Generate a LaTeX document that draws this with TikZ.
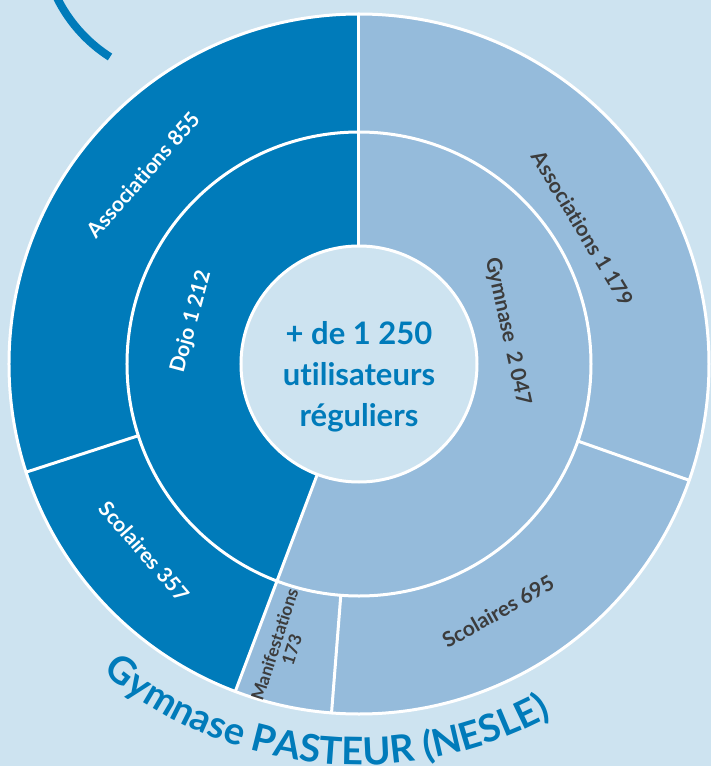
\documentclass[tikz,border=0pt]{standalone}
\usepackage{fontspec}
\setmainfont{Lato}[Ligatures=NoCommon]
\usetikzlibrary{decorations.text}

\definecolor{fond}{RGB}{205,227,240}
\definecolor{bleu}{RGB}{0,123,186}
\definecolor{bleuclair}{RGB}{149,187,219}
\definecolor{gris}{RGB}{60,60,60}

\begin{document}
\begin{tikzpicture}[line cap=round,line join=round,x=1pt,y=1pt,
    blanc/.style={draw=white,line width=3pt},
    etiq/.style={font=\bfseries\fontsize{21}{24}\selectfont,text=white,inner sep=0pt},
    etiqg/.style={font=\bfseries\fontsize{21}{24}\selectfont,text=gris,inner sep=0pt}]
    \useasboundingbox (-359,-402) rectangle (352,364);
    \clip (-359,-402) rectangle (352,364);
    \fill[fond] (-359,-402) rectangle (352,364);
    % arc du haut
    \draw[bleu,line width=8pt,line cap=butt] (-170,431) ++(200:147) arc[start angle=200,end angle=237.5,radius=147];
    % anneaux
    \fill[bleuclair] (0,0) circle[radius=350];
    \fill[bleu] (0,0) -- (90:350) arc[start angle=90,end angle=249.3,radius=350] -- cycle;
    \draw[blanc] (0,0) circle[radius=350];
    \draw[blanc] (0,0) circle[radius=232];
    \draw[blanc] (90:118) -- (90:350);
    \draw[blanc] (249.3:118) -- (249.3:350);
    \draw[blanc] (198:232) -- (198:350);
    \draw[blanc] (265.5:232) -- (265.5:350);
    \draw[blanc] (340.6:232) -- (340.6:350);
    \filldraw[fill=fond,blanc] (0,0) circle[radius=118];
    % textes
    \node[align=center,font=\bfseries\fontsize{31}{41}\selectfont,text=bleu] (total) at (0,-13) {+ de 1 250\\utilisateurs\\réguliers};
    \node[etiq,rotate=48.8] (asso855) at (138.8:287) {Associations 855};
    \node[etiq,rotate=75] (dojo) at (165.8:173) {Dojo 1 212};
    \node[etiq,rotate=-48.9] (scol357) at (221.1:285) {Scolaires 357};
    \node[etiqg,rotate=-77.6] (gymnase) at (12.4:152) {Gymnase\ \ 2 047};
    \node[etiqg,rotate=-58.8] (asso1179) at (31.2:262) {Associations 1 179};
    \node[etiqg,rotate=29.3] (scol695) at (299.3:284) {Scolaires 695};
    \node[etiqg,align=center,font=\bfseries\fontsize{17.5}{18}\selectfont,rotate=72] (manif) at (255:293) {Manifestations\\173};
    % titre
    \path[decorate,decoration={text along path,text align=center,
      text={|\bfseries\fontsize{38}{40}\selectfont\color{bleu}|Gymnase PASTEUR (NESLE)}}]
      (222:401) arc[start angle=222,end angle=307,radius=401];
\end{tikzpicture}
\end{document}
